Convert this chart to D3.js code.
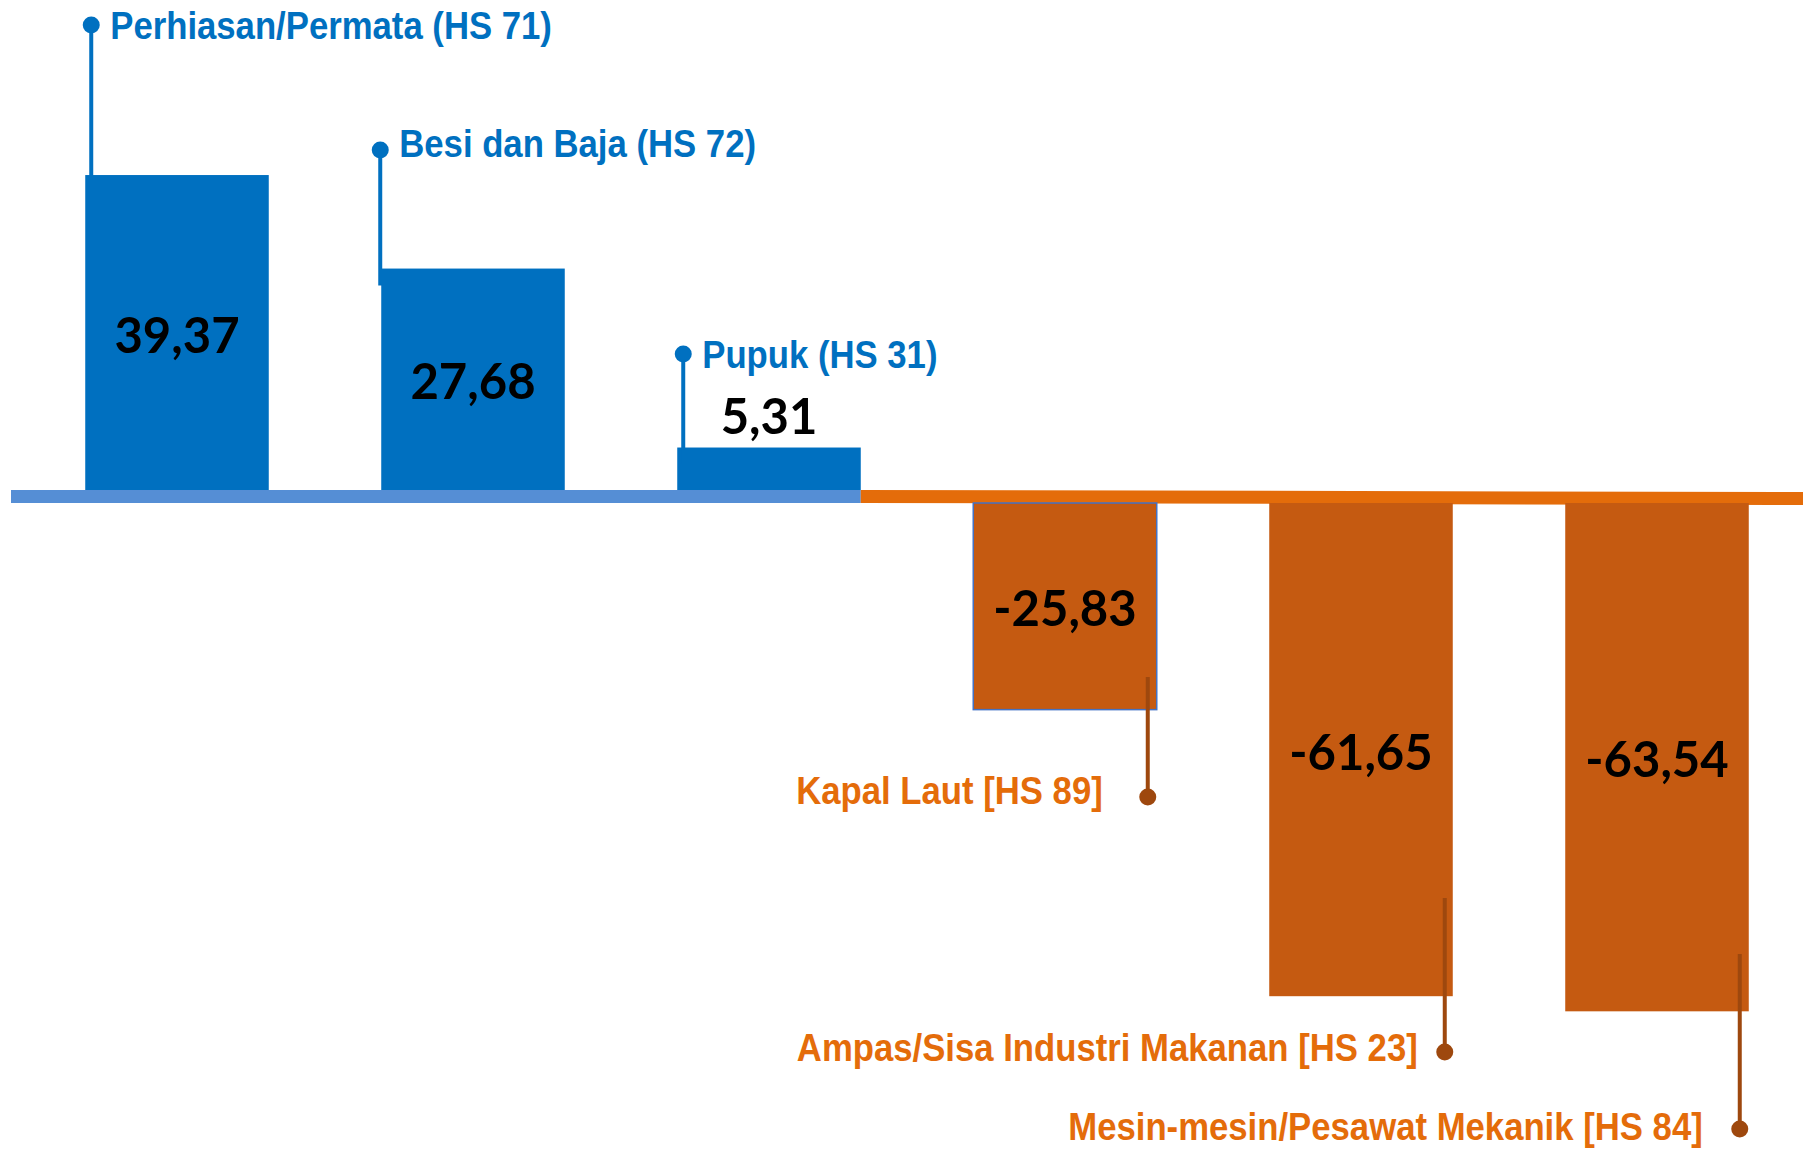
<!DOCTYPE html>
<html>
    <head>
        <meta charset="utf-8">
        <style>
            body { margin: 0; background: #fff; }
            .cat {
                font-family: "Liberation Sans", Arial, sans-serif;
                font-weight: bold;
                font-size: 39px;
            }
            .val {
                font-family: Lato, "Open Sans", sans-serif;
                font-weight: bold;
                font-size: 49px;
                fill: #000;
                text-anchor: middle;
            }
        </style>
        <script src="https://d3js.org/d3.v7.min.js"></script>
    </head>
    <body>
        <svg width="1806" height="1151"></svg>
        <script>
            // data
            var categories = ["Perhiasan/Permata (HS 71)", "Besi dan Baja (HS 72)", "Pupuk (HS 31)",
                              "Kapal Laut [HS 89]", "Ampas/Sisa Industri Makanan [HS 23]", "Mesin-mesin/Pesawat Mekanik [HS 84]"];
            var values = [39.37, 27.68, 5.31, -25.83, -61.65, -63.54];

            // callout layout (label dot height, line offset from bar edge, text gap, text shift)
            var calloutY   = [25, 150, 354, 797, 1052, 1129];
            var calloutDx  = [6, -1, 6, -9, -8, -9];
            var lineStart  = [null, null, null, 677, 898, 954];
            var textGap    = [19, 19, 19, 45, 27, 37];
            var textShift  = [0, -7, 0, -7, -5, -3];

            var svg = d3.select("svg"),
                axisH = 13,
                narrow = 0.89;   // condensed look of the label font

            var fmt = d3.formatLocale({decimal: ",", thousands: ".", grouping: [3], currency: ["", ""], minus: "-"}).format(".2f");

            var x = d3.scaleBand()
                      .domain(categories)
                      .range([29, 1805])
                      .paddingInner(0.38)
                      .paddingOuter(0.19);

            var y = d3.scaleLinear()
                      .domain([-64, 40])
                      .range([1002, 170]);

            var y0 = y(0);

            function barTop(v) { return v >= 0 ? y(v) : y0 + axisH; }
            function barBottom(v) { return v >= 0 ? y0 : y(v) + axisH; }

            // baseline
            svg.append("rect")
               .attr("x", 11).attr("y", y0)
               .attr("width", x(categories[2]) + x.bandwidth() - 11)
               .attr("height", axisH)
               .attr("fill", "#558ED5");

            var xs = x(categories[2]) + x.bandwidth();
            svg.append("path")
               .attr("d", "M" + xs + "," + y0 + "L1803," + (y0 + 2) + "L1803," + (y0 + axisH + 2) + "L" + xs + "," + (y0 + axisH) + "Z")
               .attr("fill", "#E46C0A");

            var data = categories.map(function(c, i) { return {cat: c, val: values[i], i: i}; });

            // bars
            svg.selectAll(".bar")
               .data(data)
               .enter().append("rect")
               .attr("class", "bar")
               .attr("x", function(d) { return x(d.cat); })
               .attr("y", function(d) { return barTop(d.val); })
               .attr("width", x.bandwidth())
               .attr("height", function(d) { return barBottom(d.val) - barTop(d.val); })
               .attr("fill", function(d) { return d.val >= 0 ? "#0070C0" : "#C55A11"; })
               .attr("stroke", function(d) { return d.i === 3 ? "#4472C4" : "none"; })
               .attr("stroke-width", 1.5);

            // value labels
            svg.selectAll(".val")
               .data(data)
               .enter().append("text")
               .attr("class", "val")
               .attr("x", function(d) { return x(d.cat) + x.bandwidth() / 2; })
               .attr("y", function(d) {
                    var h = barBottom(d.val) - barTop(d.val);
                    if (h < 60) return barTop(d.val) - 14;
                    return (barTop(d.val) + barBottom(d.val)) / 2 + 20;
               })
               .text(function(d) { return fmt(d.val); });

            // callouts
            var callouts = svg.selectAll(".callout")
               .data(data)
               .enter().append("g")
               .attr("class", "callout");

            function lineX(d) {
                return d.val >= 0 ? x(d.cat) + calloutDx[d.i] : x(d.cat) + x.bandwidth() + calloutDx[d.i];
            }

            callouts.append("line")
               .attr("x1", lineX)
               .attr("x2", lineX)
               .attr("y1", function(d) { return calloutY[d.i]; })
               .attr("y2", function(d) { return d.val >= 0 ? y(d.val) + 17 : lineStart[d.i]; })
               .attr("stroke", function(d) { return d.val >= 0 ? "#0070C0" : "#9E480E"; })
               .attr("stroke-width", 4);

            callouts.append("circle")
               .attr("cx", lineX)
               .attr("cy", function(d) { return calloutY[d.i]; })
               .attr("r", 8.5)
               .attr("fill", function(d) { return d.val >= 0 ? "#0070C0" : "#9E480E"; });

            callouts.append("text")
               .attr("class", "cat")
               .attr("transform", function(d) {
                    var tx = d.val >= 0 ? lineX(d) + textGap[d.i] : lineX(d) - textGap[d.i];
                    return "translate(" + tx + "," + (calloutY[d.i] + textShift[d.i]) + ") scale(" + narrow + ",1)";
               })
               .attr("dy", "0.36em")
               .attr("text-anchor", function(d) { return d.val >= 0 ? "start" : "end"; })
               .attr("fill", function(d) { return d.val >= 0 ? "#0070C0" : "#E46C0A"; })
               .text(function(d) { return d.cat; });
        </script>
    </body>
</html>
